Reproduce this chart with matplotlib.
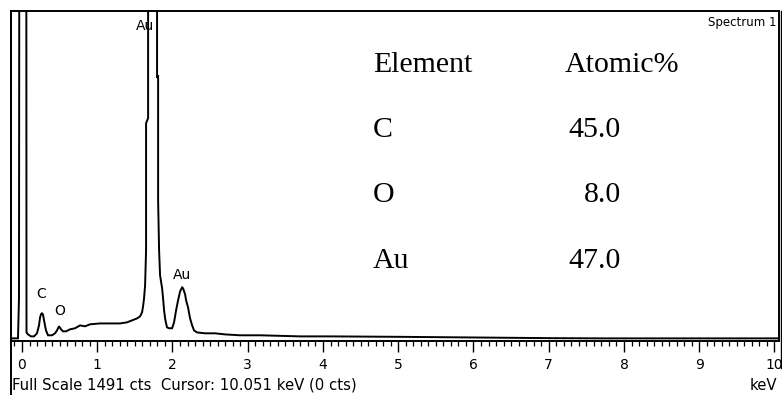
import matplotlib
matplotlib.use("Agg")
import matplotlib.pyplot as plt
from matplotlib.lines import Line2D
from matplotlib.ticker import MultipleLocator

# EDS spectrum trace (energy in keV, counts)
energy_kev = [-0.146, -0.053, -0.040, -0.027, 0.053, 0.060, 0.080, 0.120, 0.160,
              0.199, 0.226, 0.240, 0.253, 0.266, 0.279, 0.293, 0.319, 0.346, 0.399,
              0.439, 0.465, 0.492, 0.519, 0.545, 0.585, 0.638, 0.705, 0.771,
              0.838, 0.904, 0.971, 1.037, 1.170, 1.303, 1.396, 1.463, 1.529,
              1.569, 1.596, 1.609, 1.622, 1.636, 1.649, 1.649, 1.676, 1.676,
              1.795, 1.795, 1.809, 1.809, 1.822, 1.835, 1.862, 1.875, 1.888,
              1.902, 1.915, 1.928, 1.955, 1.995, 2.021, 2.048, 2.074, 2.101,
              2.128, 2.141, 2.168, 2.181, 2.207, 2.221, 2.234, 2.261, 2.287,
              2.327, 2.434, 2.566, 2.699, 2.899, 3.165, 3.697, 4.096, 5.027,
              5.691, 6.356, 7.021, 7.686, 9.016, 10.05]
counts = [0, 0, 180, 5000, 5000, 27, 18, 9, 9,
          23, 59, 95, 110, 114, 109, 82, 36, 14, 14,
          23, 36, 55, 41, 32, 32, 41, 46, 59,
          55, 64, 66, 68, 68, 68, 73, 82, 91,
          100, 119, 146, 182, 242, 401, 980, 1003, 2400,
          2400, 1186, 1199, 629, 401, 287, 228, 182, 128,
          91, 68, 50, 46, 46, 73, 128, 173, 214,
          232, 228, 200, 173, 141, 114, 91, 59, 36,
          27, 23, 23, 18, 14, 14, 9, 9, 7,
          5, 3, 1, 0, 0, 0]

# Peak labels
peak_names = ["C", "O", "Au", "Au"]
peak_kev = [0.25, 0.505, 1.64, 2.13]
peak_cts = [170, 92, 1390, 255]

# Quantification table
elements = ["C", "O", "Au"]
atomic_pct = [45.0, 8.0, 47.0]

tick_kev = list(range(0, 11))
full_scale = 1491

W, H = 782, 395
fig = plt.figure(figsize=(W / 100, H / 100), dpi=100)
fig.patch.set_facecolor("white")

left, right, top, bottom = 11, 779, 11, 341
ax = fig.add_axes([left / W, 1 - bottom / H, (right - left) / W, (bottom - top) / H])
ax.set_xlim(-0.146, 10.06)
ax.set_ylim(-12, full_scale)

ax.plot(energy_kev, counts, color="black", lw=1.4, solid_joinstyle="miter")

for sp in ax.spines.values():
    sp.set_linewidth(1.4)
    sp.set_color("black")

ax.set_yticks([])
ax.set_xticks(tick_kev)
ax.set_xticklabels([str(t) for t in tick_kev])
ax.xaxis.set_minor_locator(MultipleLocator(0.1))
ax.tick_params(axis="x", which="major", direction="out", length=8, width=1,
               pad=4, labelsize=10, colors="black")
ax.tick_params(axis="x", which="minor", direction="out", length=3.8, width=0.9)
for lab in ax.get_xticklabels():
    lab.set_family("DejaVu Sans")

label_font = dict(family="DejaVu Sans", fontsize=10, color="black")
for name, xk, yc in zip(peak_names, peak_kev, peak_cts):
    ax.text(xk, yc, name, ha="center", va="bottom", **label_font)

ax.text(0.997, 0.985, "Spectrum 1", transform=ax.transAxes, ha="right", va="top",
        family="DejaVu Sans", fontsize=8.5, color="black")

# Quantification table drawn in figure pixels
serif = dict(family="Liberation Serif", fontsize=21.5, color="black")
fig.text(373 / W, 1 - 72 / H, "Element", ha="left", va="baseline", **serif)
fig.text(565 / W, 1 - 72 / H, "Atomic%", ha="left", va="baseline", **serif)
row_y = [137, 202, 268]
for el, pct, yb in zip(elements, atomic_pct, row_y):
    fig.text(373 / W, 1 - yb / H, el, ha="left", va="baseline", **serif)
    fig.text(621 / W, 1 - yb / H, f"{pct:.1f}", ha="right", va="baseline", **serif)

# Footer status line
footer = dict(family="DejaVu Sans", fontsize=10.7, color="black")
fig.text(12 / W, 1 - 385 / H, "Full Scale 1491 cts  Cursor: 10.051 keV (0 cts)",
         ha="left", va="center", **footer)
fig.text(777 / W, 1 - 385 / H, "keV", ha="right", va="center", **footer)

# Window border extending below the plot area
fig.add_artist(Line2D([left / W, left / W], [0, 1 - top / H], color="black", lw=1.4))
fig.add_artist(Line2D([(right + 1.5) / W, (right + 1.5) / W], [1 - 368 / H, 1 - top / H],
                      color="black", lw=1.0))

fig.savefig("out.png", dpi=100)
